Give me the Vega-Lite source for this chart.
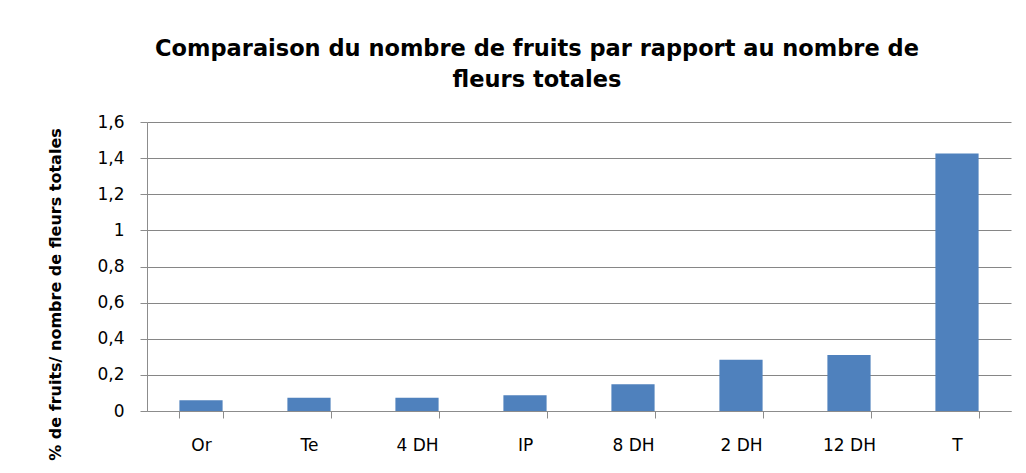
{
  "$schema": "https://vega.github.io/schema/vega-lite/v6.json",
  "width": 864,
  "height": 289,
  "autosize": {"type": "none"},
  "padding": {"left": 147, "top": 122, "right": 15, "bottom": 62},
  "background": "white",
  "title": {
    "text": ["Comparaison du nombre de fruits par rapport au nombre de", "fleurs totales"],
    "font": "DejaVu Sans",
    "fontSize": 22.5,
    "fontWeight": "bold",
    "lineHeight": 31,
    "anchor": "middle",
    "dx": -42,
    "offset": 22,
    "color": "black"
  },
  "data": {
    "values": [
      {"cat": "Or", "v": 0.06},
      {"cat": "Te", "v": 0.074},
      {"cat": "4 DH", "v": 0.074},
      {"cat": "IP", "v": 0.087},
      {"cat": "8 DH", "v": 0.148},
      {"cat": "2 DH", "v": 0.284},
      {"cat": "12 DH", "v": 0.31},
      {"cat": "T", "v": 1.425}
    ]
  },
  "mark": {"type": "bar", "color": "#4F81BD"},
  "encoding": {
    "x": {
      "field": "cat",
      "type": "nominal",
      "sort": null,
      "scale": {"paddingInner": 0.6, "paddingOuter": 0.3},
      "axis": {
        "title": null,
        "labelAngle": 0,
        "tickBand": "extent",
        "tickSize": 7,
        "tickColor": "#8c8c8c",
        "domainColor": "#8c8c8c",
        "labelFont": "DejaVu Sans",
        "labelFontSize": 17,
        "labelColor": "black",
        "labelPadding": 19,
        "grid": false
      }
    },
    "y": {
      "field": "v",
      "type": "quantitative",
      "scale": {"domain": [0, 1.6], "nice": false},
      "axis": {
        "values": [0, 0.2, 0.4, 0.6, 0.8, 1, 1.2, 1.4, 1.6],
        "format": "~g",
        "title": "% de fruits/ nombre de fleurs totales",
        "titleFont": "DejaVu Sans",
        "titleFontSize": 16,
        "titleFontWeight": "bold",
        "titleColor": "black",
        "titleAngle": 270,
        "titleX": -92,
        "titleY": 172,
        "titleAlign": "center",
        "titleBaseline": "middle",
        "labelFont": "DejaVu Sans",
        "labelFontSize": 17,
        "labelColor": "black",
        "labelPadding": 16,
        "tickSize": 7,
        "tickColor": "#8c8c8c",
        "domainColor": "#8c8c8c",
        "gridColor": "#868686",
        "gridOpacity": 1
      }
    }
  },
  "config": {
    "view": {"stroke": null},
    "locale": {"number": {"decimal": ",", "thousands": " ", "grouping": [3], "currency": ["", " €"]}}
  }
}
